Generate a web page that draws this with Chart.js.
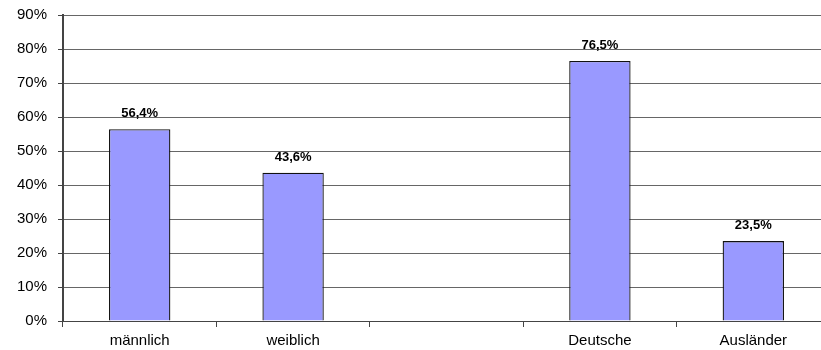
<!DOCTYPE html>
<html>
<head>
<meta charset="utf-8">
<script src="https://cdn.jsdelivr.net/npm/chart.js@4"></script>
<style>
  html, body { margin: 0; padding: 0; background: #fff; overflow: hidden; }
  #wrap { width: 840px; height: 350px; position: relative; }
</style>
</head>
<body>
<div id="wrap"><canvas id="chart"></canvas></div>
<script>
// Data
const categories = ['männlich', 'weiblich', '', 'Deutsche', 'Ausländer'];
const shares = [56.4, 43.6, null, 76.5, 23.5];
const yTicks = [0, 10, 20, 30, 40, 50, 60, 70, 80, 90];

const fmtPct = (v) => v.toFixed(1).replace('.', ',') + '%';

// Value labels above bars
const valueLabels = {
    id: 'valueLabels',
    afterDatasetsDraw(chart) {
        const ctx = chart.ctx;
        const meta = chart.getDatasetMeta(0);
        ctx.save();
        ctx.font = 'bold 13px "Liberation Sans", Arial, sans-serif';
        ctx.fillStyle = '#000';
        ctx.textAlign = 'center';
        ctx.textBaseline = 'alphabetic';
        meta.data.forEach((bar, i) => {
            if (shares[i] == null) return;
            ctx.fillText(fmtPct(shares[i]), bar.x, bar.y - 12);
        });
        ctx.restore();
    }
};

new Chart(document.getElementById('chart'), {
    type: 'bar',
    data: {
        labels: categories,
        datasets: [{
            data: shares,
            backgroundColor: '#9999FF',
            borderColor: '#111',
            borderWidth: 1.3,
            borderSkipped: 'bottom',
            barPercentage: 0.4,
            categoryPercentage: 1
        }]
    },
    options: {
        responsive: true,
        maintainAspectRatio: false,
        animation: false,
        layout: { padding: { top: 15, right: 10, left: 0, bottom: 0 } },
        plugins: {
            legend: { display: false },
            tooltip: { enabled: false }
        },
        scales: {
            x: {
                offset: true,
                grid: {
                    offset: true,
                    drawOnChartArea: false,
                    drawTicks: true,
                    tickLength: 6,
                    color: '#444'
                },
                border: { display: true, color: '#444', width: 1 },
                ticks: {
                    color: '#000',
                    padding: 5,
                    maxRotation: 0,
                    font: { family: '"Liberation Sans", Arial, sans-serif', size: 15 }
                },
                afterFit(scale) { scale.height = 29; }
            },
            y: {
                min: 0,
                max: 90,
                afterBuildTicks(scale) { scale.ticks = yTicks.map(v => ({ value: v })); },
                grid: {
                    color: '#666',
                    lineWidth: 1,
                    tickLength: 5,
                    tickColor: '#444'
                },
                border: { display: true, color: '#444', width: 2 },
                ticks: {
                    color: '#000',
                    padding: 11,
                    font: { family: '"Liberation Sans", Arial, sans-serif', size: 15, lineHeight: 1 },
                    callback: (v) => v + '%'
                },
                afterFit(scale) {
                    scale.width = 63;
                    scale.paddingTop = 0;
                    scale.paddingBottom = 0;
                }
            }
        }
    },
    plugins: [valueLabels]
});
</script>
</body>
</html>
